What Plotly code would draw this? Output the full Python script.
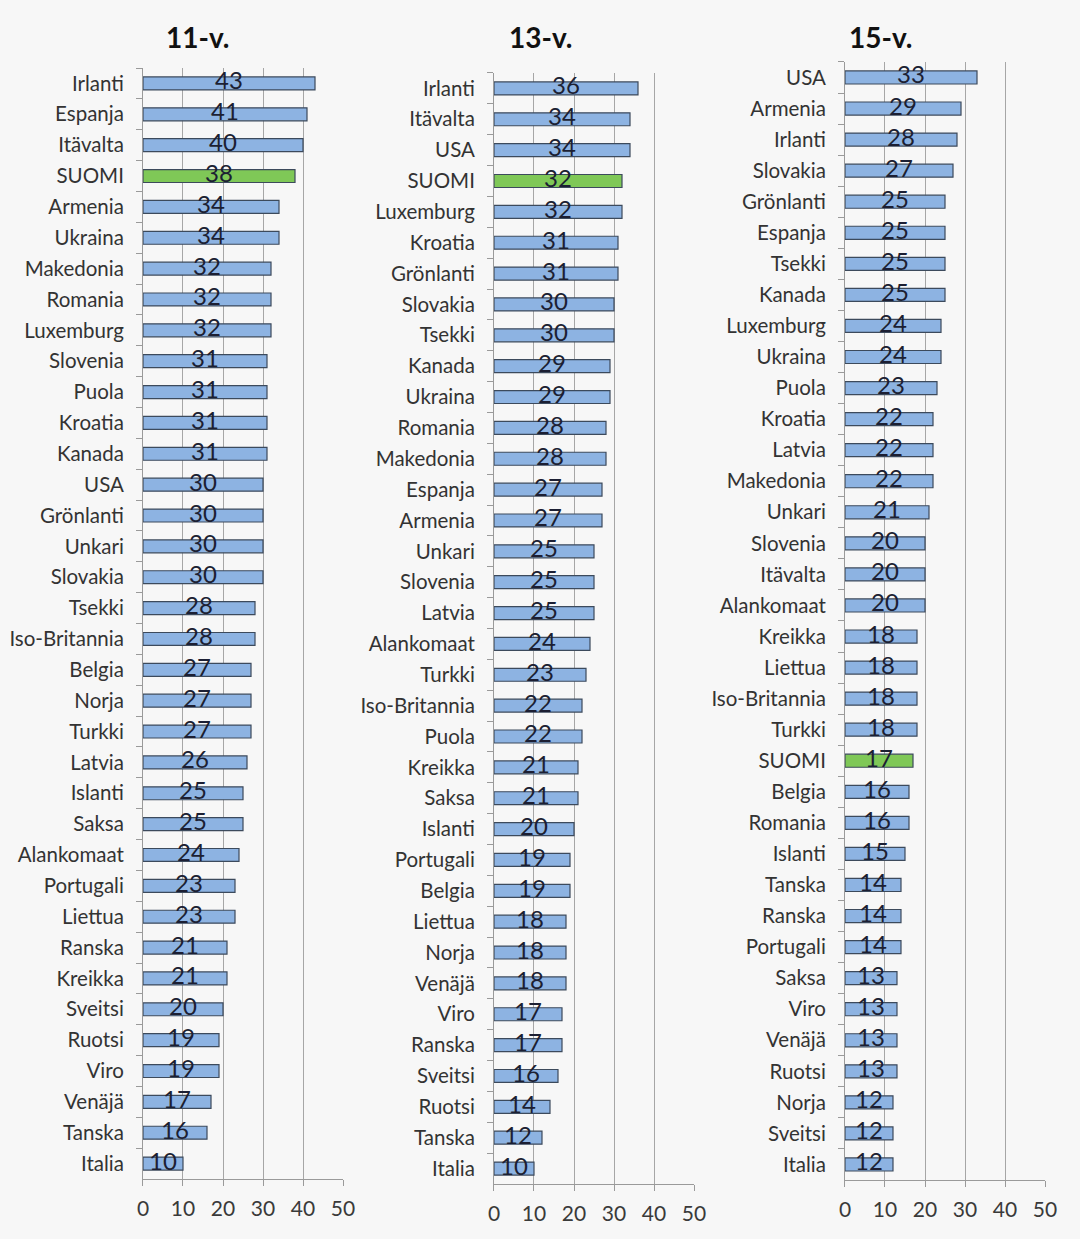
import plotly.graph_objects as go

cats_11 = ["Irlanti", "Espanja", "Itävalta", "SUOMI", "Armenia", "Ukraina", "Makedonia", "Romania",
           "Luxemburg", "Slovenia", "Puola", "Kroatia", "Kanada", "USA", "Grönlanti", "Unkari",
           "Slovakia", "Tsekki", "Iso-Britannia", "Belgia", "Norja", "Turkki", "Latvia", "Islanti",
           "Saksa", "Alankomaat", "Portugali", "Liettua", "Ranska", "Kreikka", "Sveitsi", "Ruotsi",
           "Viro", "Venäjä", "Tanska", "Italia"]
vals_11 = [43, 41, 40, 38, 34, 34, 32, 32, 32, 31, 31, 31, 31, 30, 30, 30, 30, 28, 28, 27, 27, 27,
           26, 25, 25, 24, 23, 23, 21, 21, 20, 19, 19, 17, 16, 10]

cats_13 = ["Irlanti", "Itävalta", "USA", "SUOMI", "Luxemburg", "Kroatia", "Grönlanti", "Slovakia",
           "Tsekki", "Kanada", "Ukraina", "Romania", "Makedonia", "Espanja", "Armenia", "Unkari",
           "Slovenia", "Latvia", "Alankomaat", "Turkki", "Iso-Britannia", "Puola", "Kreikka", "Saksa",
           "Islanti", "Portugali", "Belgia", "Liettua", "Norja", "Venäjä", "Viro", "Ranska",
           "Sveitsi", "Ruotsi", "Tanska", "Italia"]
vals_13 = [36, 34, 34, 32, 32, 31, 31, 30, 30, 29, 29, 28, 28, 27, 27, 25, 25, 25, 24, 23, 22, 22,
           21, 21, 20, 19, 19, 18, 18, 18, 17, 17, 16, 14, 12, 10]

cats_15 = ["USA", "Armenia", "Irlanti", "Slovakia", "Grönlanti", "Espanja", "Tsekki", "Kanada",
           "Luxemburg", "Ukraina", "Puola", "Kroatia", "Latvia", "Makedonia", "Unkari", "Slovenia",
           "Itävalta", "Alankomaat", "Kreikka", "Liettua", "Iso-Britannia", "Turkki", "SUOMI",
           "Belgia", "Romania", "Islanti", "Tanska", "Ranska", "Portugali", "Saksa", "Viro",
           "Venäjä", "Ruotsi", "Norja", "Sveitsi", "Italia"]
vals_15 = [33, 29, 28, 27, 25, 25, 25, 25, 24, 24, 23, 22, 22, 22, 21, 20, 20, 20, 18, 18, 18, 18,
           17, 16, 16, 15, 14, 14, 14, 13, 13, 13, 13, 12, 12, 12]

titles = ["11-v.", "13-v.", "15-v."]
x_ticks = [0, 10, 20, 30, 40, 50]

BLUE = "#8db3e2"
GREEN = "#7fc857"
EDGE = "#3c4a5c"
BG = "#f7f7f7"
FONT = "Lato"

panels = [
    (cats_11, vals_11, [0.1324, 0.3176], [0.0484, 0.9451], 0.183),
    (cats_13, vals_13, [0.4574, 0.6426], [0.0444, 0.9411], 0.5),
    (cats_15, vals_15, [0.7824, 0.9676], [0.0476, 0.9500], 0.815),
]

fig = go.Figure()
annotations = []
for i, (cats, vals, xd, yd, tx) in enumerate(panels):
    n = i + 1
    xa = "x" if n == 1 else f"x{n}"
    ya = "y" if n == 1 else f"y{n}"
    colors = [GREEN if c == "SUOMI" else BLUE for c in cats]
    fig.add_trace(go.Bar(
        x=vals, y=cats, orientation="h", xaxis=xa, yaxis=ya,
        marker=dict(color=colors, line=dict(color=EDGE, width=1.2)),
        width=0.42, showlegend=False, hoverinfo="x+y",
    ))
    fig.add_trace(go.Scatter(
        x=[v / 2 for v in vals], y=cats, mode="text", text=[str(v) for v in vals],
        textposition="middle center", xaxis=xa, yaxis=ya,
        textfont=dict(family=FONT, size=24, color="#1c1f33"),
        showlegend=False, hoverinfo="skip",
    ))
    xkey = "xaxis" if n == 1 else f"xaxis{n}"
    ykey = "yaxis" if n == 1 else f"yaxis{n}"
    fig.update_layout(**{
        xkey: dict(domain=xd, anchor=ya, range=[0, 50], tickvals=x_ticks,
                   showgrid=True, gridcolor="#a6a6a6", gridwidth=1,
                   showline=True, linecolor="#9a9a9a", linewidth=1,
                   ticks="outside", ticklen=6, tickcolor="#9a9a9a",
                   ticklabelstandoff=5,
                   tickfont=dict(family=FONT, size=21, color="#3a3a3a"),
                   zeroline=False, fixedrange=True, automargin=False),
        ykey: dict(domain=yd, anchor=xa, type="category", categoryorder="array",
                   categoryarray=cats, range=[35.5, -0.5],
                   showline=True, linecolor="#9a9a9a", linewidth=1,
                   ticks="outside", tickson="boundaries", ticklen=6, tickcolor="#9a9a9a",
                   ticklabelstandoff=14,
                   tickfont=dict(family=FONT, size=20.5, color="#333333"),
                   showgrid=False, fixedrange=True, automargin=False),
    })
    annotations.append(dict(
        text=f"<b>{titles[i]}</b>", x=tx, y=0.970, xref="paper", yref="paper",
        xanchor="center", yanchor="middle", showarrow=False,
        font=dict(family=FONT, size=28, color="#111111"),
    ))

fig.update_layout(
    width=1080, height=1239,
    margin=dict(l=0, r=0, t=0, b=0),
    paper_bgcolor=BG, plot_bgcolor=BG,
    annotations=annotations,
    font=dict(family=FONT),
)

fig.write_html("out.html", config={"displayModeBar": False},
               post_script="document.body.style.margin='0';document.body.style.overflow='hidden';")
